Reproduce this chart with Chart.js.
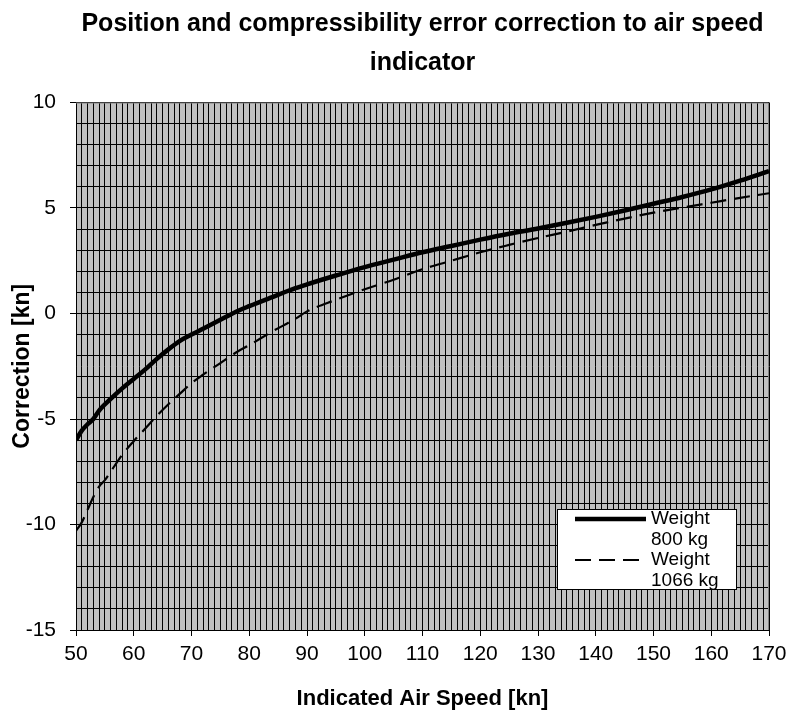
<!DOCTYPE html>
<html>
<head>
<meta charset="utf-8">
<script src="https://cdn.jsdelivr.net/npm/chart.js@4/dist/chart.umd.min.js"></script>
<style>
  html, body { margin: 0; padding: 0; background: #ffffff; }
  #wrap { width: 790px; height: 715px; }
</style>
</head>
<body>
<div id="wrap"><canvas id="c" width="790" height="715"></canvas></div>
<script>
// ---- data ----
const titleLines = ['Position and compressibility error correction to air speed', 'indicator'];
const xTitle = 'Indicated Air Speed [kn]';
const yTitle = 'Correction [kn]';

const speed800 = [50, 51, 52, 53, 54, 56, 58, 60, 62, 64, 66, 68, 70, 72, 75, 78, 80, 84, 88, 90, 95, 100, 105, 110, 115, 120, 125, 130, 135, 140, 145, 150, 155, 160, 165, 170];
const corr800  = [-6.0, -5.55, -5.25, -5.0, -4.6, -4.05, -3.55, -3.1, -2.65, -2.15, -1.7, -1.3, -1.0, -0.72, -0.3, 0.12, 0.35, 0.78, 1.2, 1.38, 1.8, 2.2, 2.55, 2.9, 3.2, 3.5, 3.78, 4.03, 4.3, 4.58, 4.88, 5.2, 5.52, 5.88, 6.3, 6.75];

const speed1066 = [50, 51, 52, 53, 54, 55, 56, 58, 60, 62, 64, 66, 68, 70, 72, 75, 78, 80, 84, 88, 90, 95, 100, 105, 110, 115, 120, 125, 130, 135, 140, 145, 150, 155, 160, 165, 170];
const corr1066  = [-10.3, -9.9, -9.3, -8.7, -8.2, -7.9, -7.5, -6.7, -6.05, -5.45, -4.85, -4.3, -3.8, -3.3, -2.9, -2.35, -1.8, -1.5, -0.85, -0.25, 0.1, 0.65, 1.15, 1.6, 2.1, 2.5, 2.9, 3.25, 3.58, 3.88, 4.2, 4.5, 4.78, 5.02, 5.25, 5.48, 5.7];

const seriesLabels = [['Weight', '800 kg'], ['Weight', '1066 kg']];

const xMin = 50, xMax = 170, xMinorStep = 1, xMajorStep = 10;
const yMin = -15, yMax = 10, yMinorStep = 1, yMajorStep = 5;

// ---- build ----
const toPts = (xs, ys) => xs.map((x, i) => ({ x: x, y: ys[i] }));
const FONT = '"Liberation Sans", Arial, sans-serif';

const plotBg = {
  id: 'plotBg',
  beforeDraw(chart) {
    const a = chart.chartArea, ctx = chart.ctx;
    ctx.save();
    ctx.fillStyle = '#c0c0c0';
    ctx.fillRect(a.left, a.top, a.right - a.left, a.bottom - a.top);
    ctx.restore();
  },
  beforeDatasetsDraw(chart) {
    const a = chart.chartArea, ctx = chart.ctx;
    ctx.save();
    ctx.strokeStyle = '#808080';
    ctx.lineWidth = 1;
    ctx.beginPath();
    ctx.moveTo(a.left, a.top + 0.5);
    ctx.lineTo(a.right - 0.5, a.top + 0.5);
    ctx.lineTo(a.right - 0.5, a.bottom);
    ctx.stroke();
    ctx.restore();
  }
};

const boxLegend = {
  id: 'boxLegend',
  afterDatasetsDraw(chart, args, opts) {
    const ctx = chart.ctx;
    const L = opts.left, T = opts.top, R = opts.right, B = opts.bottom;
    ctx.save();
    ctx.fillStyle = '#ffffff';
    ctx.fillRect(L, T, R - L, B - T);
    ctx.strokeStyle = '#000000';
    ctx.lineWidth = 1;
    ctx.strokeRect(L + 0.5, T + 0.5, R - L - 1, B - T - 1);
    ctx.font = '19px ' + FONT;
    ctx.textBaseline = 'middle';
    ctx.fillStyle = '#000000';
    chart.data.datasets.forEach((ds, i) => {
      const y0 = opts.rowTop + i * opts.rowGap;
      ctx.beginPath();
      ctx.strokeStyle = ds.borderColor;
      ctx.lineWidth = ds.borderWidth;
      ctx.setLineDash(ds.borderDash || []);
      ctx.moveTo(opts.lineX0, y0);
      ctx.lineTo(opts.lineX1, y0);
      ctx.stroke();
      ctx.setLineDash([]);
      const lines = Array.isArray(ds.label) ? ds.label : [ds.label];
      lines.forEach((t, j) => ctx.fillText(t, opts.textX, y0 + j * opts.lineGap));
    });
    ctx.restore();
  }
};

new Chart(document.getElementById('c'), {
  type: 'line',
  data: {
    datasets: [
      {
        label: seriesLabels[0],
        data: toPts(speed800, corr800),
        borderColor: '#000000',
        borderWidth: 4.5,
        pointRadius: 0,
        cubicInterpolationMode: 'monotone',
        fill: false
      },
      {
        label: seriesLabels[1],
        data: toPts(speed1066, corr1066),
        borderColor: '#000000',
        borderWidth: 2.2,
        borderDash: [16, 8],
        pointRadius: 0,
        cubicInterpolationMode: 'monotone',
        fill: false
      }
    ]
  },
  options: {
    responsive: false,
    animation: false,
    layout: { padding: { left: 0, right: 21, top: 0, bottom: 0 } },
    plugins: {
      legend: { display: false },
      tooltip: { enabled: false },
      title: {
        display: true,
        fullSize: false,
        text: titleLines,
        color: '#000000',
        font: { family: FONT, size: 25, weight: 'bold', lineHeight: 1.55 },
        padding: { top: 5, bottom: 20 }
      },
      boxLegend: {
        left: 557, top: 509, right: 737, bottom: 590,
        lineX0: 575, lineX1: 646, textX: 651,
        rowTop: 519, rowGap: 41, lineGap: 21
      }
    },
    scales: {
      x: {
        type: 'linear',
        min: xMin, max: xMax,
        afterFit(s) { s.height = 85; s.paddingRight = 0; s.paddingLeft = 0; },
        border: { color: '#000000', width: 1 },
        grid: {
          color: '#000000',
          lineWidth: 1,
          tickLength: 6,
          tickColor: (c) => (c.tick && c.tick.value % xMajorStep === 0) ? '#000000' : 'rgba(0,0,0,0)'
        },
        ticks: {
          stepSize: xMinorStep,
          autoSkip: false,
          maxRotation: 0,
          padding: 6,
          color: '#000000',
          font: { family: FONT, size: 21 },
          callback: (v) => (v % xMajorStep === 0) ? String(v) : ''
        },
        title: {
          display: true,
          text: xTitle,
          color: '#000000',
          font: { family: FONT, size: 22, weight: 'bold' },
          padding: { top: 0, bottom: 3 }
        }
      },
      y: {
        type: 'linear',
        min: yMin, max: yMax,
        afterFit(s) { s.width = 76; s.paddingTop = 0; s.paddingBottom = 0; },
        border: { color: '#000000', width: 1 },
        grid: {
          color: '#000000',
          lineWidth: 1,
          tickLength: 6,
          tickColor: (c) => (c.tick && c.tick.value % yMajorStep === 0) ? '#000000' : 'rgba(0,0,0,0)'
        },
        ticks: {
          stepSize: yMinorStep,
          autoSkip: false,
          padding: 14,
          color: '#000000',
          font: { family: FONT, size: 21 },
          callback: (v) => (v % yMajorStep === 0) ? String(v) : ''
        },
        title: {
          display: true,
          text: yTitle,
          color: '#000000',
          font: { family: FONT, size: 23, weight: 'bold' },
          padding: { top: 9, bottom: 0 }
        }
      }
    }
  },
  plugins: [plotBg, boxLegend]
});
</script>
</body>
</html>
